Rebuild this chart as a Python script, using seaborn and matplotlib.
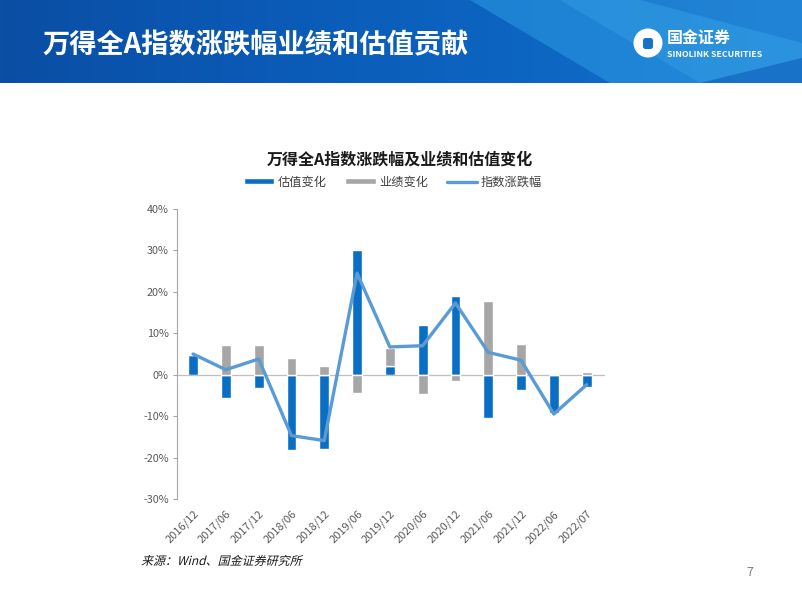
"""万得全A指数涨跌幅：业绩与估值贡献（柱状叠加 + 折线）。"""

import matplotlib

matplotlib.use("Agg")
import matplotlib.pyplot as plt
import numpy as np
import pandas as pd
import seaborn as sns
from matplotlib.font_manager import FontProperties
from matplotlib.patches import Circle, FancyBboxPatch, PathPatch, Polygon
from matplotlib.text import TextPath
from matplotlib.transforms import Affine2D

# ========================================================================== #
# Data (percent)
# ========================================================================== #
PERIODS = ["2016/12", "2017/06", "2017/12", "2018/06", "2018/12", "2019/06",
           "2019/12", "2020/06", "2020/12", "2021/06", "2021/12", "2022/06",
           "2022/07"]
VALUATION = [4.8, -5.6, -3.2, -18.1, -17.9, 30.0, 2.2, 12.1, 18.9, -10.5, -3.6, -9.3, -3.0]
EARNINGS = [0.2, 7.1, 7.1, 4.0, 2.2, -4.3, 4.3, -4.7, -1.5, 17.9, 7.5, 0.0, 0.7]
INDEX_CHG = [5.0, 1.2, 3.8, -14.7, -15.9, 24.5, 6.7, 7.0, 17.3, 5.4, 3.5, -9.5, -2.4]
Y_TICKS = [-30, -20, -10, 0, 10, 20, 30, 40]

BLUE = "#0A6EC4"
GRAY = "#A6A6A6"
LINE = "#5B9BD5"
TICK_GRAY = "#595959"
W, H = 802, 602

sns.set_theme(style="white")
plt.rcParams["font.family"] = ["Noto Sans CJK SC", "DejaVu Sans"]

df = pd.DataFrame({"period": PERIODS, "valuation": VALUATION,
                   "earnings": EARNINGS, "index": INDEX_CHG})
df["pos"] = np.arange(len(df))
# stack earnings on valuation when both have the same sign
same_sign = np.sign(df.valuation) == np.sign(df.earnings)
df["earn_bottom"] = np.where(same_sign, df.valuation, 0.0)

fig = plt.figure(figsize=(W / 100, H / 100), dpi=100)

# ========================================================================== #
# Header banner (axes in pixel units)
# ========================================================================== #
ban = fig.add_axes([0, 1 - 83 / H, 1, 83 / H])
grad = np.linspace(0, 1, 256)[None, :]
cmap = matplotlib.colors.LinearSegmentedColormap.from_list(
    "ban", ["#0B4EA4", "#0A5AB6", "#0D66C2", "#1572CC"])
ban.imshow(grad, aspect="auto", cmap=cmap, extent=[0, W, 0, 83])
ban.add_patch(Polygon([[470, 83], [640, 83], [W, 40], [W, 0], [610, 0]],
                      closed=True, color="#2E9BE4", alpha=0.55, lw=0))
ban.add_patch(Polygon([[560, 83], [W, 83], [W, 0], [700, 0]],
                      closed=True, color="#3BA7EA", alpha=0.35, lw=0))
ban.add_patch(Polygon([[700, 0], [W, 0], [W, 25]],
                      closed=True, color="#0D5DB8", alpha=0.6, lw=0))
ban.set_xlim(0, W)
ban.set_ylim(0, 83)
ban.axis("off")
ban.text(42, 38, "万得全A指数涨跌幅业绩和估值贡献", color="white",
         fontsize=19.6, fontweight="bold", va="center", ha="left")
ban.add_patch(Circle((648, 40), 14.5, color="white", lw=0))
ban.add_patch(FancyBboxPatch((643, 34), 10, 11,
                             boxstyle="round,pad=0,rounding_size=2.5",
                             color="#1672CC", lw=0))
ban.text(667, 45, "国金证券", color="white", fontsize=11.5,
         fontweight="bold", va="center", ha="left")
ban.text(667, 28.5, "SINOLINK SECURITIES", color="white", fontsize=6.3,
         fontweight="bold", va="center", ha="left")

# ========================================================================== #
# Chart
# ========================================================================== #
ax = fig.add_axes([177 / W, 1 - 499 / H, 428 / W, 290 / H])
sns.barplot(data=df, x="pos", y="valuation", color=BLUE, width=0.3,
            saturation=1, ax=ax, native_scale=True, label="估值变化")
ax.bar(df.pos, df.earnings, bottom=df.earn_bottom, width=0.3, color=GRAY,
       label="业绩变化", zorder=2)
sns.lineplot(data=df, x="pos", y="index", color=LINE, lw=2.4, ax=ax,
             label="指数涨跌幅", zorder=4)
ax.axhline(0, color="#BFBFBF", lw=0.9, zorder=1)

ax.set_xlim(-0.49, 12.56)
ax.set_ylim(-30, 40)
ax.set_yticks(Y_TICKS)
ax.set_yticklabels([f"{t}%" for t in Y_TICKS], color=TICK_GRAY, fontsize=7.8)
ax.set_xticks(df.pos)
ax.set_xticklabels(PERIODS, rotation=45, ha="right", rotation_mode="anchor",
                   color=TICK_GRAY, fontsize=8)
ax.tick_params(axis="y", length=3, width=0.8, color="#A6A6A6", pad=3,
               direction="out", left=True)
ax.tick_params(axis="x", length=0, pad=7)
for side in ["top", "right", "bottom"]:
    ax.spines[side].set_visible(False)
ax.spines["left"].set_color("#A6A6A6")
ax.spines["left"].set_linewidth(0.8)
ax.set_xlabel("")
ax.set_ylabel("")
ax.set_facecolor("none")

handles, labels = ax.get_legend_handles_labels()
order = [labels.index(l) for l in ["估值变化", "业绩变化", "指数涨跌幅"]]
ax.legend([handles[i] for i in order], [labels[i] for i in order],
          loc="center", bbox_to_anchor=(393 / W, 1 - 182 / H),
          bbox_transform=fig.transFigure, ncol=3, frameon=False,
          fontsize=8.8, handlelength=2.5, handleheight=0.45, columnspacing=1.5,
          handletextpad=0.3, labelcolor="#404040")

fig.text(400 / W, 1 - 160 / H, "万得全A指数涨跌幅及业绩和估值变化",
         ha="center", va="center", fontsize=11.5, fontweight="bold", color="#1A1A1A")

# italic source note: sheared text path (CJK font has no italic face)
src = TextPath((0, 0), "来源：Wind、国金证券研究所", size=12,
               prop=FontProperties(family="Noto Sans CJK SC"))
fig.add_artist(PathPatch(src, color="#1A1A1A", lw=0,
                         transform=Affine2D().skew_deg(14, 0).translate(141, H - 565)))
fig.text(750 / W, 1 - 573 / H, "7", ha="center", va="center",
         fontsize=9, color="#808080")

fig.savefig("out.png", dpi=100)
